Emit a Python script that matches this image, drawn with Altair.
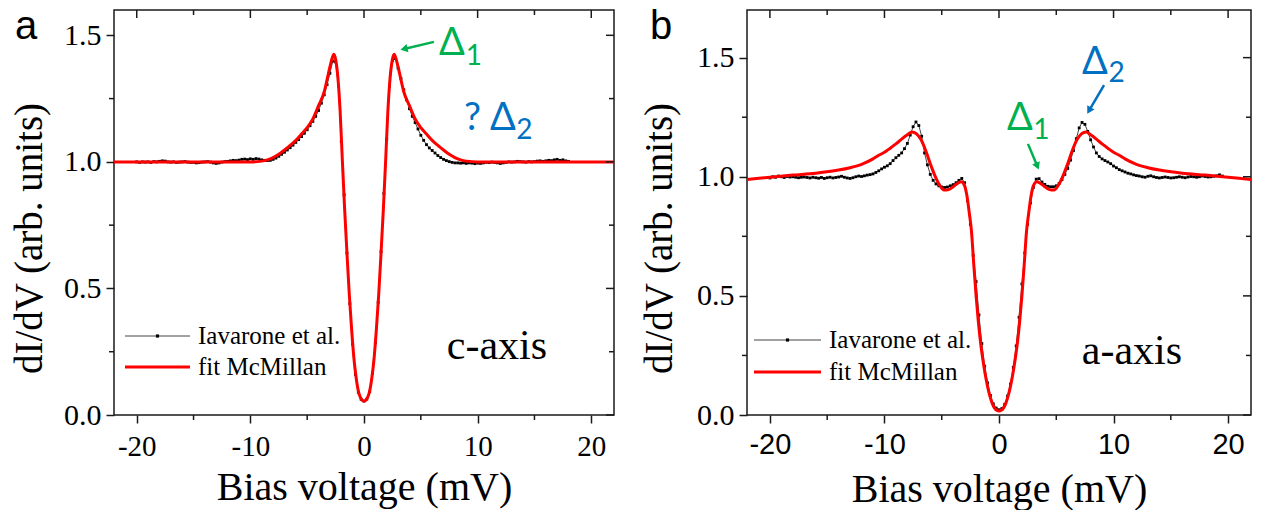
import altair as alt
import pandas as pd

SERIF = "Liberation Serif"
SANS = "Liberation Sans"
GREEK = "Lato"
INK = "#1a1a1a"
GREEN = "#00b050"
BLUE = "#0070c0"
RED = "#ff0000"
DATA_LINE = "#444444"

X_DOMAIN = [-22, 22]
X_MAJOR = [-20, -10, 0, 10, 20]
X_MINOR = [-15, -5, 5, 15]
Y_MAJOR = [0.0, 0.5, 1.0, 1.5]
Y_MINOR = [0.25, 0.75, 1.25]

A_Y_DOMAIN = [0, 1.6]
B_Y_DOMAIN = [0, 1.7]

BIAS_STEP = 0.25

# ---------------- panel a : c-axis ----------------
A_BIAS_START = -20.0
A_DIDV = [
    1.000, 0.998, 1.000, 0.999,
    1.000, 0.998, 1.001, 1.000,
    1.002, 1.004, 1.003, 1.000,
    0.999, 1.000, 0.998, 0.999,
    1.000, 1.001, 0.999, 0.998,
    0.998, 0.996, 0.997, 0.999,
    1.000, 1.001, 0.999, 0.996,
    0.994, 0.996, 0.999, 1.001,
    1.002, 1.004, 1.006, 1.005,
    1.007, 1.010, 1.011, 1.009,
    1.012, 1.010, 1.013, 1.011,
    1.008, 1.006, 1.005, 1.006,
    1.010, 1.015, 1.022, 1.030,
    1.038, 1.047, 1.056, 1.066,
    1.077, 1.088, 1.100, 1.113,
    1.127, 1.143, 1.160, 1.180,
    1.203, 1.232, 1.265, 1.305,
    1.350, 1.398, 1.395, 1.300,
    1.080, 0.870, 0.640, 0.440,
    0.280, 0.160, 0.090, 0.062,
    0.055, 0.063, 0.092, 0.165,
    0.285, 0.445, 0.645, 0.875,
    1.090, 1.300, 1.400, 1.408,
    1.370, 1.330, 1.285, 1.245,
    1.210, 1.180, 1.155, 1.130,
    1.105, 1.085, 1.068, 1.055,
    1.045, 1.035, 1.025, 1.017,
    1.010, 1.005, 1.001, 0.998,
    0.996, 0.996, 0.995, 0.996,
    0.994, 0.996, 0.995, 0.993,
    0.995, 0.994, 0.996, 0.998,
    0.997, 0.999, 0.998, 0.996,
    0.994, 0.996, 0.998, 1.000,
    0.999, 1.000, 1.002, 1.001,
    1.000, 0.999, 1.001, 1.000,
    1.001, 1.003, 1.004, 1.002,
    1.004, 1.006, 1.005, 1.008,
    1.010, 1.006, 1.008, 1.004,
    1.002,
]
A_FIT_BIAS = [
    -22, -10, -9, -8.5, -8, -7.5, -7, -6.5, -6, -5.5, -5, -4.5, -4, -3.5,
    -3.25, -3, -2.8, -2.65, -2.5, -2.3, -2.1, -1.9, -1.7, -1.5, -1.3, -1.1,
    -0.9, -0.7, -0.5, -0.3, -0.15, 0,
    0.15, 0.3, 0.5, 0.7, 0.9, 1.1, 1.3, 1.5, 1.7, 1.9, 2.1, 2.3, 2.5, 2.65,
    2.8, 3, 3.25, 3.5, 4, 4.5, 5, 5.5, 6, 6.5, 7, 7.5, 8, 8.5, 9, 10, 22,
]
A_FIT_DIDV = [
    1.000, 1.000, 1.003, 1.008, 1.017, 1.030, 1.047, 1.065, 1.085, 1.110,
    1.135, 1.170, 1.222, 1.277, 1.325, 1.375, 1.410, 1.425, 1.405, 1.334,
    1.200, 1.000, 0.810, 0.640, 0.480, 0.345, 0.230, 0.150, 0.095, 0.068,
    0.058, 0.055,
    0.058, 0.068, 0.095, 0.150, 0.230, 0.345, 0.480, 0.640, 0.810, 1.000,
    1.200, 1.334, 1.405, 1.425, 1.410, 1.375, 1.325, 1.277, 1.222, 1.170,
    1.135, 1.110, 1.085, 1.065, 1.047, 1.030, 1.017, 1.008, 1.003, 1.000,
    1.000,
]

# ---------------- panel b : a-axis ----------------
B_BIAS_START = -20.0
B_DIDV = [
    0.995, 1.000, 0.998, 1.003,
    1.000, 0.997, 1.001, 0.999,
    1.000, 0.998, 0.996, 0.998,
    0.999, 0.997, 0.995, 0.998,
    0.996, 0.994, 0.997, 0.993,
    0.996, 0.998, 0.995, 0.997,
    0.999, 1.002, 0.998, 0.995,
    0.993, 0.996, 1.000, 1.003,
    1.001, 1.004, 1.007, 1.009,
    1.012, 1.018, 1.025, 1.033,
    1.040, 1.046, 1.055, 1.068,
    1.080, 1.090, 1.100, 1.118,
    1.140, 1.175, 1.210, 1.230,
    1.215, 1.170, 1.100, 1.050,
    1.010, 0.985, 0.970, 0.962,
    0.957, 0.955, 0.957, 0.962,
    0.967, 0.975, 0.985, 0.993,
    0.975, 0.900, 0.800, 0.670,
    0.560, 0.420, 0.300, 0.205,
    0.135, 0.082, 0.047, 0.029,
    0.022, 0.027, 0.045, 0.080,
    0.130, 0.200, 0.290, 0.410,
    0.550, 0.680, 0.800, 0.890,
    0.955, 0.990, 0.992, 0.978,
    0.968, 0.960, 0.958, 0.958,
    0.962, 0.972, 0.988, 1.010,
    1.035, 1.070, 1.110, 1.160,
    1.205, 1.228, 1.220, 1.190,
    1.155, 1.125, 1.100, 1.085,
    1.075, 1.068, 1.062, 1.055,
    1.045, 1.038, 1.030, 1.025,
    1.020, 1.015, 1.012, 1.008,
    1.005, 1.003, 1.000, 0.998,
    1.002, 1.004, 1.000, 0.997,
    0.995, 0.997, 0.999, 0.997,
    0.995, 0.996, 0.998, 1.000,
    0.998, 0.996, 0.999, 1.001,
    1.000, 0.998, 1.000, 1.003,
    1.001, 0.999, 1.000, 1.002,
    1.004, 1.008, 1.003,
]
B_FIT_BIAS = [
    -22, -20, -18, -16, -14, -13, -12, -11, -10.5, -10, -9.5, -9, -8.5, -8,
    -7.6, -7.2, -6.8, -6.4, -6.0, -5.6, -5.2, -4.8, -4.4, -4.0, -3.6, -3.3,
    -3.0, -2.8, -2.6, -2.4, -2.2, -2.0, -1.8, -1.6, -1.4, -1.2, -1.0, -0.8,
    -0.6, -0.4, -0.2, 0,
    0.2, 0.4, 0.6, 0.8, 1.0, 1.2, 1.4, 1.6, 1.8, 2.0, 2.2, 2.4, 2.6, 2.8,
    3.0, 3.3, 3.6, 4.0, 4.4, 4.8, 5.2, 5.6, 6.0, 6.4, 6.8, 7.2, 7.6, 8.0,
    8.5, 9.0, 9.5, 10.0, 10.5, 11, 12, 13, 14, 16, 18, 20, 22,
]
B_FIT_DIDV = [
    0.989, 0.998, 1.007, 1.015, 1.028, 1.038, 1.052, 1.075, 1.090, 1.103,
    1.120, 1.138, 1.158, 1.176, 1.188, 1.180, 1.155, 1.110, 1.055, 1.005,
    0.966, 0.944, 0.946, 0.958, 0.973, 0.979, 0.962, 0.920, 0.850, 0.770,
    0.630, 0.500, 0.390, 0.300, 0.230, 0.170, 0.120, 0.080, 0.050, 0.030,
    0.020, 0.017,
    0.020, 0.030, 0.050, 0.080, 0.120, 0.170, 0.230, 0.300, 0.390, 0.500,
    0.630, 0.770, 0.850, 0.920, 0.962, 0.979, 0.973, 0.958, 0.946, 0.944,
    0.966, 1.005, 1.055, 1.110, 1.155, 1.180, 1.188, 1.176, 1.158, 1.138,
    1.120, 1.103, 1.090, 1.075, 1.052, 1.038, 1.028, 1.015, 1.007, 0.998,
    0.989,
]

# ---------------- annotations (bias mV, dI/dV) ----------------
A_TEXT_BIG = [("Δ", 6.6, 1.422, GREEN), ("?", 8.8, 1.126, BLUE), ("Δ", 11.09, 1.126, BLUE)]
A_TEXT_SUB = [("1", 8.95, 1.383, GREEN), ("2", 13.4, 1.090, BLUE)]
A_ARROWS = [(6.16, 1.474, 3.52, 1.446, GREEN, 257)]
A_AXIS_NOTE = ("c-axis", 11.7, 0.221)

B_TEXT_BIG = [("Δ", 7.25, 1.432, BLUE), ("Δ", 0.70, 1.196, GREEN)]
B_TEXT_SUB = [("2", 9.55, 1.398, BLUE), ("1", 3.0, 1.159, GREEN)]
B_ARROWS = [(9.17, 1.385, 7.86, 1.278, BLUE, 210), (2.53, 1.138, 3.35, 1.044, GREEN, 157)]
B_AXIS_NOTE = ("a-axis", 11.61, 0.214)

LEGEND_LABELS = ["Iavarone et al.", "fit McMillan"]

H = 405


def make_panel(letter, start, didv, fit_bias, fit_didv, y_dom, W,
               xlab_font, xlab_pad, ytitle_x, xtitle_y,
               big, sub, arrows, note, leg, anchor_x):
    xs = alt.Scale(domain=X_DOMAIN, nice=False, zero=False)
    ys = alt.Scale(domain=y_dom, nice=False, zero=False)
    bias = [round(start + BIAS_STEP * i, 2) for i in range(len(didv))]
    data = pd.DataFrame({"v": bias, "g": didv})
    fit = pd.DataFrame({"v": fit_bias, "g": fit_didv})

    x_axis = alt.Axis(
        values=X_MAJOR, labelExpr="'' + datum.value", labelFont=xlab_font,
        labelFontSize=29, labelColor="black", labelPadding=xlab_pad,
        labelFlush=False, labelOverlap=False, tickSize=8, tickWidth=1.5,
        tickColor=INK, domain=False, grid=False, title="Bias voltage (mV)",
        titleFont=SERIF, titleFontSize=40, titleFontWeight="normal",
        titleColor="black", titleBaseline="alphabetic", titleY=xtitle_y,
    )
    y_axis = alt.Axis(
        values=Y_MAJOR, format=".1f", labelFont=SERIF, labelFontSize=30,
        labelColor="black", labelPadding=5, labelFlush=False,
        labelOverlap=False, tickSize=8, tickWidth=1.5, tickColor=INK,
        domain=False, grid=False, title="dI/dV (arb. units)",
        titleFont=SERIF, titleFontSize=39, titleFontWeight="normal",
        titleColor="black", titleX=ytitle_x, titleY=228,
        titleBaseline="bottom", titleAngle=270,
    )

    def X(field="v"):
        return alt.X(f"{field}:Q", scale=xs, axis=x_axis)

    def Y(field="g"):
        return alt.Y(f"{field}:Q", scale=ys, axis=y_axis)

    layers = []
    layers.append(alt.Chart(data).mark_line(color=DATA_LINE, strokeWidth=1)
                  .encode(x=X(), y=Y()))
    layers.append(alt.Chart(data).mark_square(size=8, color="black", opacity=1)
                  .encode(x=X(), y=Y()))
    layers.append(alt.Chart(fit).mark_line(color=RED, strokeWidth=3, interpolate="monotone")
                  .encode(x=X(), y=Y()))

    # mirrored / minor ticks
    xmaj = pd.DataFrame({"v": X_MAJOR})
    xmin = pd.DataFrame({"v": X_MINOR})
    ymaj = pd.DataFrame({"g": Y_MAJOR})
    ymin = pd.DataFrame({"g": Y_MINOR})
    tick = dict(color=INK, strokeWidth=1.5)
    layers.append(alt.Chart(xmaj).mark_rule(**tick).encode(x=X(), y=alt.value(0), y2=alt.value(8)))
    layers.append(alt.Chart(xmin).mark_rule(**tick).encode(x=X(), y=alt.value(0), y2=alt.value(5)))
    layers.append(alt.Chart(xmin).mark_rule(**tick).encode(x=X(), y=alt.value(H), y2=alt.value(H + 5)))
    layers.append(alt.Chart(ymaj).mark_rule(**tick).encode(y=Y(), x=alt.value(W), x2=alt.value(W - 8)))
    layers.append(alt.Chart(ymin).mark_rule(**tick).encode(y=Y(), x=alt.value(W), x2=alt.value(W - 5)))
    layers.append(alt.Chart(ymin).mark_rule(**tick).encode(y=Y(), x=alt.value(0), x2=alt.value(-5)))

    # arrows
    for (v0, g0, v1, g1, col, ang) in arrows:
        seg = pd.DataFrame({"v": [v0], "g": [g0], "v2": [v1], "g2": [g1]})
        layers.append(alt.Chart(seg).mark_rule(color=col, strokeWidth=2.5).encode(
            x=X(), y=Y(), x2="v2:Q", y2="g2:Q"))
        head = pd.DataFrame({"v": [v1], "g": [g1]})
        layers.append(alt.Chart(head).mark_point(shape="triangle-up", filled=True, size=70,
                                                 color=col, opacity=1, angle=ang).encode(
            x=X(), y=Y()))

    # Greek labels
    for (t, v, g, col) in big:
        d = pd.DataFrame({"v": [v], "g": [g], "t": [t]})
        layers.append(alt.Chart(d).mark_text(font=GREEK, fontSize=38, color=col, align="left",
                                             baseline="alphabetic").encode(x=X(), y=Y(), text="t:N"))
    for (t, v, g, col) in sub:
        d = pd.DataFrame({"v": [v], "g": [g], "t": [t]})
        layers.append(alt.Chart(d).mark_text(font=GREEK, fontSize=28, color=col, align="left",
                                             baseline="alphabetic").encode(x=X(), y=Y(), text="t:N"))
    nd = pd.DataFrame({"v": [note[1]], "g": [note[2]], "t": [note[0]]})
    layers.append(alt.Chart(nd).mark_text(font=SERIF, fontSize=42, color="black", align="center",
                                          baseline="alphabetic").encode(x=X(), y=Y(), text="t:N"))

    # legend (drawn inside the frame)
    lx0, lx1, ly0, ly1, tx = leg
    one = pd.DataFrame({"k": [0]})
    layers.append(alt.Chart(one).mark_rule(color=DATA_LINE, strokeWidth=1).encode(
        x=alt.value(lx0), x2=alt.value(lx1), y=alt.value(ly0)))
    layers.append(alt.Chart(one).mark_square(size=10, color="black", opacity=1).encode(
        x=alt.value((lx0 + lx1) / 2), y=alt.value(ly0)))
    layers.append(alt.Chart(one).mark_rule(color=RED, strokeWidth=3).encode(
        x=alt.value(lx0), x2=alt.value(lx1), y=alt.value(ly1)))
    for lab, yy in zip(LEGEND_LABELS, [ly0, ly1]):
        layers.append(alt.Chart(one).mark_text(font=SERIF, fontSize=25, color="black", align="left",
                                               baseline="middle").encode(
            x=alt.value(tx), y=alt.value(yy), text=alt.value(lab)))

    # panel letter
    layers.append(alt.Chart(one).mark_text(font=SANS, fontSize=40, color="black", align="left",
                                           baseline="alphabetic").encode(
        x=alt.value(letter[1]), y=alt.value(29), text=alt.value(letter[0])))

    # invisible layout anchor (fixes the page bounds, lies outside the drawn area)
    layers.append(alt.Chart(one).mark_rule(color="white", strokeWidth=1).encode(
        x=alt.value(anchor_x), y=alt.value(-40), y2=alt.value(H + 110)))

    return alt.layer(*layers).properties(width=W, height=H)


panel_a = make_panel(("a", -99), A_BIAS_START, A_DIDV, A_FIT_BIAS, A_FIT_DIDV, A_Y_DOMAIN, 500,
                     SERIF, 9, -65, 84, A_TEXT_BIG, A_TEXT_SUB, A_ARROWS, A_AXIS_NOTE,
                     (11, 76, 326, 357, 84), -130)
panel_b = make_panel(("b", -97), B_BIAS_START, B_DIDV, B_FIT_BIAS, B_FIT_DIDV, B_Y_DOMAIN, 504,
                     SANS, 7, -68, 86, B_TEXT_BIG, B_TEXT_SUB, B_ARROWS, B_AXIS_NOTE,
                     (7, 74, 330, 362, 82), 534)

chart = alt.hconcat(panel_a, panel_b, spacing=133, bounds="flush").properties(
    padding={"left": -26, "top": -40, "right": -26, "bottom": -17},
).configure_view(stroke=INK, strokeWidth=1.5)

chart.save("out.html", embed_options={"renderer": "svg", "actions": False})
